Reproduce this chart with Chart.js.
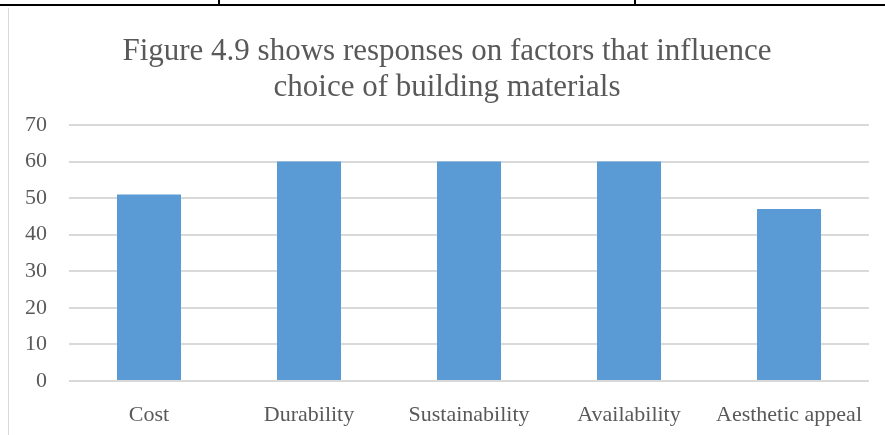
<!DOCTYPE html>
<html>
<head>
<meta charset="utf-8">
<script src="https://cdn.jsdelivr.net/npm/chart.js@4"></script>
<style>
  body { margin: 0; background: #fff; }
  #wrap { position: relative; width: 885px; height: 435px; }
</style>
</head>
<body>
<div id="wrap"><canvas id="chart" width="885" height="435"></canvas></div>
<script>
// chart data
const categories = ['Cost', 'Durability', 'Sustainability', 'Availability', 'Aesthetic appeal'];
const responses = [51, 60, 60, 60, 47];
const titleLines = ['Figure 4.9 shows responses on factors that influence', 'choice of building materials'];

const textGrey = '#595959';
const serif = "'Liberation Serif', 'Times New Roman', serif";

// page furniture: table line at the top and the chart frame
const framePlugin = {
  id: 'frame',
  beforeDraw(chart) {
    const ctx = chart.ctx;
    ctx.save();
    ctx.fillStyle = '#fff';
    ctx.fillRect(0, 0, chart.width, chart.height);
    ctx.strokeStyle = '#d9d9d9';
    ctx.lineWidth = 1;
    ctx.beginPath();
    ctx.moveTo(8.5, 8);
    ctx.lineTo(8.5, chart.height);
    ctx.stroke();
    ctx.strokeStyle = '#000';
    ctx.lineWidth = 2;
    ctx.beginPath();
    ctx.moveTo(0, 5);
    ctx.lineTo(chart.width, 5);
    ctx.moveTo(219, 0);
    ctx.lineTo(219, 5);
    ctx.moveTo(635, 0);
    ctx.lineTo(635, 5);
    ctx.stroke();
    ctx.restore();
  }
};

new Chart(document.getElementById('chart'), {
  type: 'bar',
  data: {
    labels: categories,
    datasets: [{
      label: 'Responses',
      data: responses,
      backgroundColor: '#5b9bd5',
      barPercentage: 0.4,
      categoryPercentage: 1.0
    }]
  },
  options: {
    responsive: false,
    animation: false,
    layout: { padding: { left: 25, right: 16, top: 0, bottom: 0 } },
    plugins: {
      legend: { display: false },
      tooltip: { enabled: false },
      title: {
        display: true,
        text: titleLines,
        color: textGrey,
        font: { family: serif, size: 31, weight: 'normal', lineHeight: 1.16 },
        padding: { top: 34, bottom: 19 }
      }
    },
    scales: {
      x: {
        grid: { display: false, drawTicks: false },
        border: { display: false },
        ticks: {
          color: textGrey,
          font: { family: serif, size: 22 },
          padding: 21,
          maxRotation: 0
        },
        afterFit(scale) { scale.height = 54; }
      },
      y: {
        min: 0,
        max: 70,
        grid: { color: '#d9d9d9', lineWidth: 2, drawTicks: false },
        border: { display: false },
        ticks: {
          stepSize: 10,
          color: textGrey,
          font: { family: serif, size: 22 },
          padding: 22
        },
        afterFit(scale) { scale.width = 44; }
      }
    }
  },
  plugins: [framePlugin]
});
</script>
</body>
</html>
